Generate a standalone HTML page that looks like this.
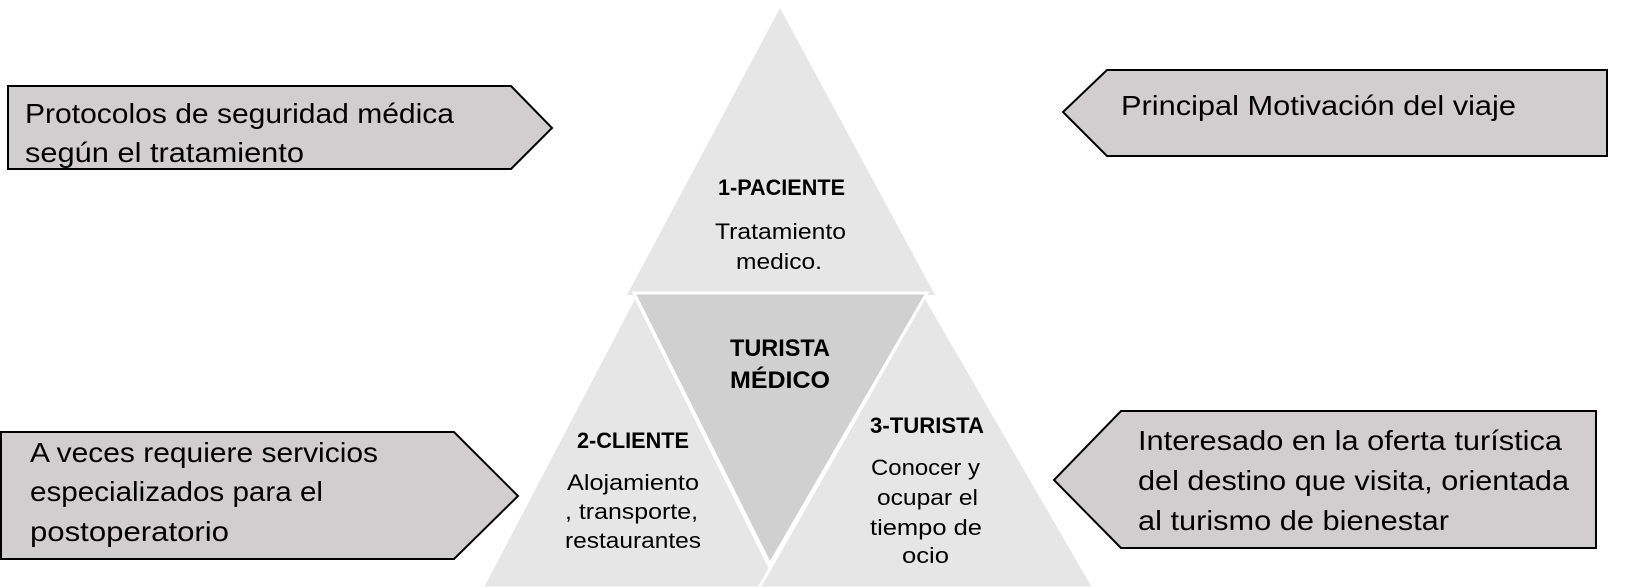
<!DOCTYPE html>
<html><head><meta charset="utf-8"><style>
html,body{margin:0;padding:0;background:#fff;width:1649px;height:588px;overflow:hidden}
svg{display:block}
text{font-family:"Liberation Sans",sans-serif;fill:#000}
.b{font-size:28px}
.t{font-size:22px}
.h{font-size:22px;font-weight:bold}
.c{font-size:24px;font-weight:bold}
</style></head><body>
<svg width="1649" height="588" viewBox="0 0 1649 588" xmlns="http://www.w3.org/2000/svg">
<g stroke="#fff" stroke-width="3" stroke-linejoin="miter">
<polygon points="780,8 935,295 627,295" fill="#e6e6e6" stroke="none"/>
<polygon points="635,296 780,588 482,588" fill="#e6e6e6"/>
<polygon points="925,296 1094,588 759,588" fill="#e6e6e6"/>
<polygon points="634,293 927,293 770,564" fill="#d0d0d0"/>
</g>
<g fill="#d0cece" stroke="#000" stroke-width="2">
<polygon points="8,86 511,86 552,128 511,169 8,169"/>
<polygon points="1107,70 1607,70 1607,156 1107,156 1063,112"/>
<polygon points="1,432 454,432 518,496 454,559 1,559"/>
<polygon points="1121,411 1596,411 1596,548 1121,548 1054,480"/>
</g>
<text class="b" x="25" y="123" textLength="429" lengthAdjust="spacingAndGlyphs">Protocolos de seguridad médica</text>
<text class="b" x="25" y="162" textLength="279" lengthAdjust="spacingAndGlyphs">según el tratamiento</text>
<text class="b" x="1121" y="115" textLength="395" lengthAdjust="spacingAndGlyphs">Principal Motivación del viaje</text>
<text class="b" x="30" y="462" textLength="348" lengthAdjust="spacingAndGlyphs">A veces requiere servicios</text>
<text class="b" x="30" y="501" textLength="293" lengthAdjust="spacingAndGlyphs">especializados para el</text>
<text class="b" x="30" y="541" textLength="199" lengthAdjust="spacingAndGlyphs">postoperatorio</text>
<text class="b" x="1138" y="450" textLength="424" lengthAdjust="spacingAndGlyphs">Interesado en la oferta turística</text>
<text class="b" x="1138" y="490" textLength="431" lengthAdjust="spacingAndGlyphs">del destino que visita, orientada</text>
<text class="b" x="1138" y="530" textLength="311" lengthAdjust="spacingAndGlyphs">al turismo de bienestar</text>

<text class="h" x="718" y="195" textLength="127" lengthAdjust="spacingAndGlyphs">1-PACIENTE</text>
<text class="t" x="715" y="239" textLength="131" lengthAdjust="spacingAndGlyphs">Tratamiento</text>
<text class="t" x="736" y="269" textLength="86" lengthAdjust="spacingAndGlyphs">medico.</text>
<text class="c" x="730" y="356" textLength="100" lengthAdjust="spacingAndGlyphs">TURISTA</text>
<text class="c" x="730" y="388" textLength="100" lengthAdjust="spacingAndGlyphs">MÉDICO</text>
<text class="h" x="577" y="448" textLength="112" lengthAdjust="spacingAndGlyphs">2-CLIENTE</text>
<text class="t" x="567" y="490" textLength="132" lengthAdjust="spacingAndGlyphs">Alojamiento</text>
<text class="t" x="565" y="519" textLength="133" lengthAdjust="spacingAndGlyphs">, transporte,</text>
<text class="t" x="565" y="548" textLength="136" lengthAdjust="spacingAndGlyphs">restaurantes</text>
<text class="h" x="870" y="433" textLength="114" lengthAdjust="spacingAndGlyphs">3-TURISTA</text>
<text class="t" x="871" y="475" textLength="109" lengthAdjust="spacingAndGlyphs">Conocer y</text>
<text class="t" x="877" y="505" textLength="101" lengthAdjust="spacingAndGlyphs">ocupar el</text>
<text class="t" x="870" y="535" textLength="112" lengthAdjust="spacingAndGlyphs">tiempo de</text>
<text class="t" x="902" y="563" textLength="47" lengthAdjust="spacingAndGlyphs">ocio</text>
</svg>
</body></html>
